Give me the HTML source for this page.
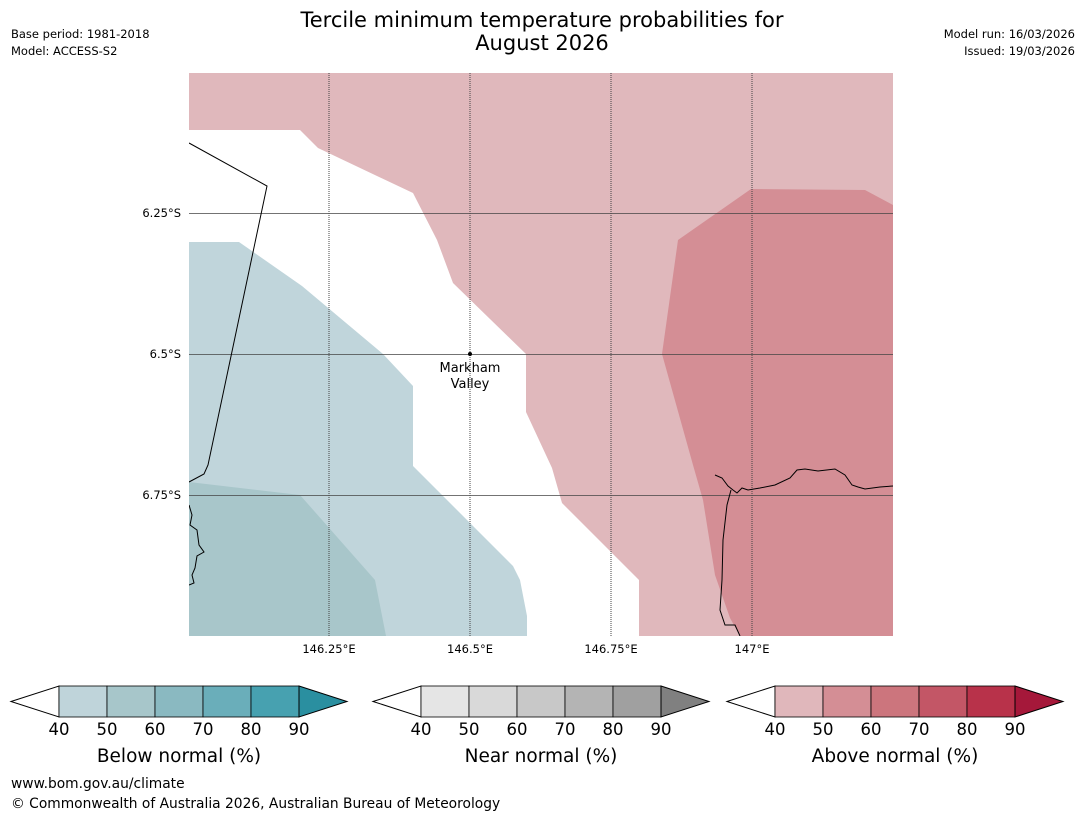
<!DOCTYPE html>
<html><head><meta charset="utf-8"><style>
body{margin:0;background:#fff;font-family:"DejaVu Sans","Liberation Sans",sans-serif;}
svg text{font-family:"DejaVu Sans","Liberation Sans",sans-serif;}
</style></head><body>
<svg width="1085" height="816" viewBox="0 0 1085 816">
<text x="542" y="27" text-anchor="middle" font-size="21">Tercile minimum temperature probabilities for</text>
<text x="542" y="50" text-anchor="middle" font-size="21">August 2026</text>
<text x="11" y="38" font-size="11.5">Base period: 1981-2018</text>
<text x="11" y="55" font-size="11.5">Model: ACCESS-S2</text>
<text x="1075" y="38" font-size="11.5" text-anchor="end">Model run: 16/03/2026</text>
<text x="1075" y="55" font-size="11.5" text-anchor="end">Issued: 19/03/2026</text>
<g>
<clipPath id="mc"><rect x="189" y="73" width="704" height="563"/></clipPath>
<g clip-path="url(#mc)">
<polygon fill="#e0b8bc" points="189,73 893,73 893,636 639,636 639,580 562,503 552,468 526,412 526,354 453,283 437,240 413,193 318,148 300,130 189,130"/>
<polygon fill="#d48e95" points="751,189 865,190 893,205 893,636 740,636 730,618 715,575 703,500 693,465 662,354 678,240"/>
<polygon fill="#c0d5db" points="189,242 239,242 302,286 383,354 413,386 413,466 513,566 520,580 527,616 527,636 189,636"/>
<polygon fill="#a8c6ca" points="189,482 300,495 375,580 386,636 189,636"/>
<g stroke="#444" stroke-width="1">
<line x1="329" y1="73" x2="329" y2="636" stroke-dasharray="1,1"/>
<line x1="470" y1="73" x2="470" y2="636" stroke-dasharray="1,1"/>
<line x1="611" y1="73" x2="611" y2="636" stroke-dasharray="1,1"/>
<line x1="752" y1="73" x2="752" y2="636" stroke-dasharray="1,1"/>
<line x1="189" y1="213.5" x2="893" y2="213.5" stroke-width="0.8"/>
<line x1="189" y1="354.5" x2="893" y2="354.5" stroke-width="0.8"/>
<line x1="189" y1="495.5" x2="893" y2="495.5" stroke-width="0.8"/>
</g>
<polyline fill="none" stroke="#000" stroke-width="1" points="189,143 267,186 208,465 204,474 189,482"/>
<polyline fill="none" stroke="#000" stroke-width="1" points="189,505 192,515 190,525 197,530 199,545 204,552 197,556 195,568 192,575 194,583 189,585"/>
<polyline fill="none" stroke="#000" stroke-width="1" points="715,475 722,478 728,486 733,490 737,493 742,488 748,490 760,488 775,485 790,478 797,470 805,469 818,471 835,469 845,475 852,485 858,487 865,489 880,487 893,486"/>
<polyline fill="none" stroke="#000" stroke-width="1" points="731,490 727,505 723,540 722,580 720,610 725,625 735,625 740,636"/>
<circle cx="470" cy="354" r="2" fill="#000"/>
<text x="470" y="372" font-size="13" text-anchor="middle">Markham</text>
<text x="470" y="388" font-size="13" text-anchor="middle">Valley</text>
</g>
</g>
<g font-size="11.5">
<text x="181" y="217" text-anchor="end">6.25°S</text>
<text x="181" y="358" text-anchor="end">6.5°S</text>
<text x="181" y="499" text-anchor="end">6.75°S</text>
</g>
<g font-size="11.5" text-anchor="middle">
<text x="329" y="653">146.25°E</text>
<text x="470" y="653">146.5°E</text>
<text x="611" y="653">146.75°E</text>
<text x="752" y="653">147°E</text>
</g>
<g id="cbars"></g>
<text x="11" y="788" font-size="13.8">www.bom.gov.au/climate</text>
<text x="11" y="808" font-size="13.8">© Commonwealth of Australia 2026, Australian Bureau of Meteorology</text>
</svg>
<script>
const cbLabels=["Below normal (%)","Near normal (%)","Above normal (%)"];
const cbTicks=[40,50,60,70,80,90];
const cbStarts=[11,373,727];
const cbColors=[["#bfd4da","#a7c6ca","#8ab9c1","#6aaeba","#47a1b0","#2a8fa0"],["#e5e5e5","#d9d9d9","#c8c8c8","#b4b4b4","#a0a0a0","#808080"],["#e0b7bb","#d48e95","#cc757d","#c35666","#b8324a","#a5183a"]];
const NS="http://www.w3.org/2000/svg";
const g=document.getElementById('cbars');
function mk(t,a,p){const e=document.createElementNS(NS,t);for(const k in a)e.setAttribute(k,a[k]);p.appendChild(e);return e;}
cbStarts.forEach((s,i)=>{
 const grp=mk('g',{},g);
 
 
 const x0=s+48,w=48,y0=686,y1=717,ym=701.5;
 const lt=mk('polygon',{points:`${s},${ym} ${x0},${y0} ${x0},${y1}`,fill:'#fff',stroke:'#000','stroke-width':1},grp);
 
 
 for(let j=0;j<5;j++){
  const r=mk('rect',{x:x0+j*w,y:y0,width:w,height:y1-y0,fill:cbColors[i][j],stroke:'#000','stroke-width':0.8},grp);
  
  
 }
 const xe=x0+5*w;
 const rt=mk('polygon',{points:`${xe},${y0} ${xe+48},${ym} ${xe},${y1}`,fill:cbColors[i][5],stroke:'#000','stroke-width':1},grp);
 
 
 cbTicks.forEach((t,j)=>{
  const tx=mk('text',{x:x0+j*w,y:735,'font-size':16.5,'text-anchor':'middle'},grp);tx.textContent=t;
  
  
 });
 const lb=mk('text',{x:x0+2.5*w,y:762,'font-size':18.5,'text-anchor':'middle'},grp);lb.textContent=cbLabels[i];
 
 
});
</script>
</body></html>
